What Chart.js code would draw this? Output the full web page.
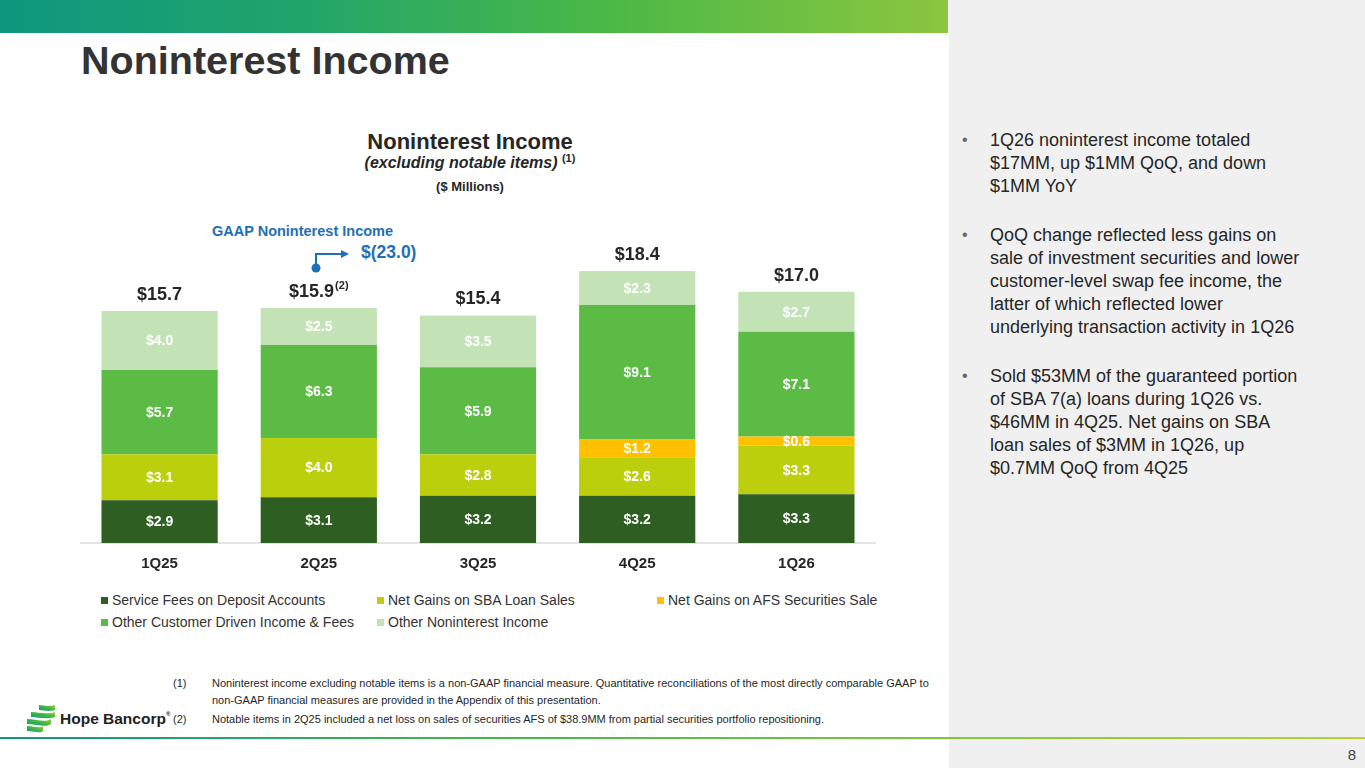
<!DOCTYPE html>
<html>
<head>
<meta charset="utf-8">
<script src="https://cdn.jsdelivr.net/npm/chart.js@4/dist/chart.umd.min.js"></script>
<style>
  html, body { margin: 0; padding: 0; }
  body { width: 1365px; height: 768px; position: relative; overflow: hidden; background: #fff;
         font-family: "Liberation Sans", Arial, sans-serif; color: #262626; }
  .abs { position: absolute; }
  #topbar { left: 0; top: 0; width: 948px; height: 33px;
            background: linear-gradient(90deg, #0f977f 0%, #1fa46c 30%, #4cb946 65%, #8cc63f 100%); }
  #side { left: 949px; top: 0; width: 416px; height: 768px; background: #f0f0f0; }
  #bottomline { left: 0; top: 737px; width: 1365px; height: 2px;
                background: linear-gradient(90deg, #0f977f 0%, #4cb946 40%, #b5d334 100%); }
  #pagenum { left: 1330px; top: 746px; width: 26px; text-align: right; font-size: 15px; color: #444; }
  h1 { position: absolute; left: 81px; top: 38px; margin: 0; font-size: 39.5px; font-weight: bold; color: #333; }
  .ctitle { left: 270px; width: 400px; text-align: center; font-weight: bold; color: #262626; }
  sup { font-size: 60%; line-height: 0; }
  #gaap { left: 212px; top: 223px; font-size: 14.5px; font-weight: bold; color: #1f6fb5; }
  #gaapval { left: 361px; top: 242px; font-size: 17.5px; font-weight: bold; color: #1f6fb5; }
  #legend { left: 101px; top: 592px; width: 800px; font-size: 14px; color: #333; }
  .li { position: absolute; white-space: nowrap; }
  .li i { display: inline-block; width: 7px; height: 7px; margin-right: 4px; vertical-align: 1px; }
  #notes { left: 173px; top: 675px; width: 770px; font-size: 11px; color: #262626; line-height: 17px; }
  .note { position: relative; padding-left: 39px; margin-bottom: 2px; }
  .note span { position: absolute; left: 0; }
  #bullets { left: 962px; top: 129px; width: 390px; font-size: 18px; line-height: 23px; color: #262626; }
  .bl { position: relative; padding-left: 28px; margin-bottom: 26px; }
  .bl span { position: absolute; left: 0; top: -1px; color: #666; font-size: 16px; }
  #logotext { left: 60px; top: 710px; font-size: 15.5px; font-weight: bold; color: #222; }
</style>
</head>
<body>
<div id="topbar" class="abs"></div>
<div id="side" class="abs"></div>
<div id="bottomline" class="abs"></div>
<div id="pagenum" class="abs">8</div>

<h1>Noninterest Income</h1>

<div class="abs ctitle" style="top:129px;font-size:22px;">Noninterest Income</div>
<div class="abs ctitle" style="top:154px;font-size:16px;"><i>(excluding notable items)</i> <sup style="font-size:11px">(1)</sup></div>
<div class="abs ctitle" style="top:179px;font-size:13px;">($ Millions)</div>

<div id="gaap" class="abs">GAAP Noninterest Income</div>
<div id="gaapval" class="abs">$(23.0)</div>
<svg class="abs" style="left:300px;top:240px;" width="60" height="40">
  <polyline points="16,28 16,14 42,14" fill="none" stroke="#1f6fb5" stroke-width="2"/>
  <polygon points="41,10 49,14 41,18" fill="#1f6fb5"/>
  <circle cx="16" cy="28" r="4.5" fill="#1f6fb5"/>
</svg>

<canvas id="chart" class="abs" style="left:80px;top:230px;" width="796" height="345"></canvas>

<div id="legend" class="abs"></div>

<div id="notes" class="abs">
  <div class="note"><span>(1)</span>Noninterest income excluding notable items is a non-GAAP financial measure. Quantitative reconciliations of the most directly comparable GAAP to<br>non-GAAP financial measures are provided in the Appendix of this presentation.</div>
  <div class="note"><span>(2)</span>Notable items in 2Q25 included a net loss on sales of securities AFS of $38.9MM from partial securities portfolio repositioning.</div>
</div>

<svg class="abs" style="left:27px;top:704px;" width="30" height="30">
  <defs>
    <linearGradient id="lg" x1="0" y1="1" x2="1" y2="0">
      <stop offset="0" stop-color="#0f977f"/>
      <stop offset="0.5" stop-color="#3cb54a"/>
      <stop offset="1" stop-color="#a6cf38"/>
    </linearGradient>
  </defs>
  <path d="M12,1 C17,1 20,3 28,1 L28,6 C20,8 17,6 12,6 Z" fill="url(#lg)"/>
  <path d="M4,8 C12,8 18,11 28,8 L28,13 C18,16 12,13 4,13 Z" fill="url(#lg)"/>
  <path d="M0,15 C10,15 18,19 24,15 L24,20 C18,24 10,20 0,20 Z" fill="url(#lg)"/>
  <path d="M0,22 C8,22 12,25 16,22 L16,27 C12,30 8,27 0,27 Z" fill="url(#lg)"/>
</svg>
<div id="logotext" class="abs">Hope Bancorp<sup style="font-size:6px;vertical-align:8px">®</sup></div>

<div id="bullets" class="abs">
  <div class="bl"><span>•</span>1Q26 noninterest income totaled<br>$17MM, up $1MM QoQ, and down<br>$1MM YoY</div>
  <div class="bl"><span>•</span>QoQ change reflected less gains on<br>sale of investment securities and lower<br>customer-level swap fee income, the<br>latter of which reflected lower<br>underlying transaction activity in 1Q26</div>
  <div class="bl"><span>•</span>Sold $53MM of the guaranteed portion<br>of SBA 7(a) loans during 1Q26 vs.<br>$46MM in 4Q25. Net gains on SBA<br>loan sales of $3MM in 1Q26, up<br>$0.7MM QoQ from 4Q25</div>
</div>

<script>
const categories = ["1Q25", "2Q25", "3Q25", "4Q25", "1Q26"];
const serviceFees = [2.9, 3.1, 3.2, 3.2, 3.3];
const sbaGains = [3.1, 4.0, 2.8, 2.6, 3.3];
const afsGains = [0, 0, 0, 1.2, 0.6];
const otherCustomer = [5.7, 6.3, 5.9, 9.1, 7.1];
const otherNoninterest = [4.0, 2.5, 3.5, 2.3, 2.7];
const totals = [15.7, 15.9, 15.4, 18.4, 17.0];
const totalNotes = ["", "(2)", "", "", ""];

const seriesNames = ["Service Fees on Deposit Accounts", "Net Gains on SBA Loan Sales", "Net Gains on AFS Securities Sale",
  "Other Customer Driven Income & Fees", "Other Noninterest Income"];
const seriesColors = ["#2e5e22", "#bccf0c", "#ffc000", "#5cbb45", "#c3e3b6"];
const seriesData = [serviceFees, sbaGains, afsGains, otherCustomer, otherNoninterest];

const FONT = '"Liberation Sans", Arial, sans-serif';

// value labels inside segments + totals on top
const labelPlugin = {
  id: "labels",
  afterDatasetsDraw(chart) {
    const ctx = chart.ctx;
    ctx.save();
    ctx.textAlign = "center";
    ctx.textBaseline = "middle";
    ctx.fillStyle = "#fff";
    ctx.font = "bold 14px " + FONT;
    chart.data.datasets.forEach((ds, di) => {
      chart.getDatasetMeta(di).data.forEach((bar, i) => {
        const v = ds.data[i];
        if (!v) return;
        ctx.fillText("$" + v.toFixed(1), bar.x, (bar.y + bar.base) / 2 + 1);
      });
    });
    const y = chart.scales.y;
    const meta = chart.getDatasetMeta(0);
    totals.forEach((t, i) => {
      const x = meta.data[i].x;
      const yy = y.getPixelForValue(t) - 16;
      const main = "$" + t.toFixed(1);
      ctx.fillStyle = "#262626";
      ctx.font = "bold 18px " + FONT;
      const w1 = ctx.measureText(main).width;
      let w2 = 0;
      if (totalNotes[i]) {
        ctx.font = "bold 11px " + FONT;
        w2 = ctx.measureText(totalNotes[i]).width + 1;
      }
      const x0 = x - (w1 + w2) / 2;
      ctx.textAlign = "left";
      ctx.font = "bold 18px " + FONT;
      ctx.fillText(main, x0, yy);
      if (totalNotes[i]) {
        ctx.font = "bold 11px " + FONT;
        ctx.fillText(totalNotes[i], x0 + w1 + 1, yy - 6);
      }
      ctx.textAlign = "center";
    });
    ctx.restore();
  }
};

new Chart(document.getElementById("chart"), {
  type: "bar",
  data: {
    labels: categories,
    datasets: seriesData.map((d, i) => ({
      label: seriesNames[i],
      data: d,
      backgroundColor: seriesColors[i],
      borderWidth: 0,
      barPercentage: 0.73,
      categoryPercentage: 1
    }))
  },
  options: {
    responsive: false,
    animation: false,
    layout: { padding: 0 },
    plugins: { legend: { display: false }, tooltip: { enabled: false } },
    scales: {
      x: {
        stacked: true,
        grid: { display: false, drawTicks: false },
        border: { display: true, color: "#e3e3e3", width: 2 },
        ticks: { color: "#262626", padding: 12, font: { family: FONT, size: 15, weight: "bold" } },
        afterFit: (s) => { s.height = 32; }
      },
      y: { stacked: true, display: false, min: 0, max: 21.18 }
    }
  },
  plugins: [labelPlugin]
});

// legend laid out like the slide (three columns)
const legend = document.getElementById("legend");
const legendPos = [[0, 0], [276, 0], [556, 0], [0, 22], [276, 22]];
seriesNames.forEach((n, i) => {
  const el = document.createElement("div");
  el.className = "li";
  el.style.left = legendPos[i][0] + "px";
  el.style.top = legendPos[i][1] + "px";
  el.innerHTML = '<i style="background:' + seriesColors[i] + '"></i>' + n.replace("&", "&amp;");
  legend.appendChild(el);
});
</script>
</body>
</html>
